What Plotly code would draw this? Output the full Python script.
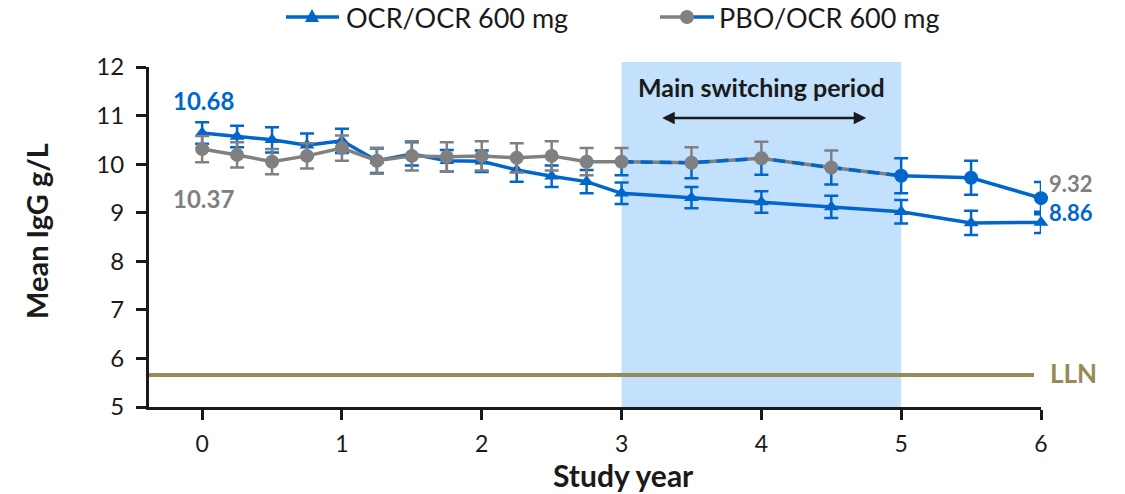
import plotly.graph_objects as go

# ---------------- data ----------------
years = [0, 0.25, 0.5, 0.75, 1, 1.25, 1.5, 1.75, 2, 2.25, 2.5, 2.75, 3, 3.5, 4, 4.5, 5, 5.5, 6]
ocr_mean = [10.64, 10.57, 10.50, 10.39, 10.48, 10.07, 10.21, 10.07, 10.06, 9.88, 9.75, 9.64,
            9.40, 9.31, 9.22, 9.12, 9.02, 8.79, 8.80]
ocr_err = [0.22, 0.22, 0.26, 0.24, 0.25, 0.25, 0.24, 0.22, 0.22, 0.24, 0.22, 0.24,
           0.22, 0.22, 0.22, 0.23, 0.24, 0.25, 0.22]
pbo_mean = [10.31, 10.19, 10.05, 10.17, 10.33, 10.07, 10.17, 10.15, 10.17, 10.13, 10.17, 10.05,
            10.05, 10.03, 10.12, 9.93, 9.76, 9.72, 9.30]
pbo_err = [0.27, 0.26, 0.26, 0.26, 0.26, 0.27, 0.30, 0.30, 0.30, 0.30, 0.30, 0.28,
           0.28, 0.32, 0.34, 0.35, 0.36, 0.35, 0.33]
series_names = ["OCR/OCR 600 mg", "PBO/OCR 600 mg"]
switch_start, switch_end = 3, 5
lln = 5.66
x_ticks = [0, 1, 2, 3, 4, 5, 6]
y_ticks = [5, 6, 7, 8, 9, 10, 11, 12]
label_ocr_start, label_pbo_start = "10.68", "10.37"
label_pbo_end, label_ocr_end = "9.32", "8.86"

# ---------------- style ----------------
BLUE = "#0066CC"
GRAY = "#808080"
SHADE = "#C3E0FC"
OLIVE = "#968B56"
TXT = "#1a1a1a"
FONT = "Lato"
OFF = 0                      # page body margin (removed via post_script)
W, H = 1125 - OFF, 494 - OFF
ML, MT = 149 - OFF, 67 - OFF
PW, PH = 892, 340
MR, MB = W - ML - PW, H - MT - PH


def px_x(p):                 # screen px -> paper x
    return (p - OFF - ML) / PW


def px_y(p):                 # screen px -> paper y
    return 1 + (MT - (p - OFF)) / PH


def sel(xs, vals, cond):
    return [v for x, v in zip(xs, vals) if cond(x)]


fig = go.Figure()

# OCR/OCR series
fig.add_trace(go.Scatter(
    x=years, y=ocr_mean, mode="lines+markers", cliponaxis=False,
    line=dict(color=BLUE, width=3.5),
    marker=dict(symbol="triangle-up", size=13, color=BLUE),
    error_y=dict(type="data", array=ocr_err, color=BLUE, thickness=2.5, width=7),
    showlegend=False))

# PBO/OCR : pre-switch (gray)
pre = lambda x: x < switch_start
fig.add_trace(go.Scatter(
    x=sel(years, years, lambda x: x <= switch_start),
    y=sel(years, pbo_mean, lambda x: x <= switch_start),
    mode="lines", cliponaxis=False, line=dict(color=GRAY, width=3.5), showlegend=False))
fig.add_trace(go.Scatter(
    x=sel(years, years, pre), y=sel(years, pbo_mean, pre), mode="markers", cliponaxis=False,
    marker=dict(symbol="circle", size=14, color=GRAY),
    error_y=dict(type="data", array=sel(years, pbo_err, pre), color=GRAY, thickness=2.5, width=7),
    showlegend=False))

# PBO/OCR : switching period
sw = lambda x: switch_start <= x < switch_end
swl = lambda x: switch_start <= x <= switch_end
n_sw = len(sel(years, years, sw))
fig.add_trace(go.Scatter(
    x=sel(years, years, sw), y=sel(years, pbo_mean, sw), mode="lines", cliponaxis=False,
    line=dict(color="rgba(0,0,0,0)", width=0),
    error_y=dict(type="data", symmetric=False, array=sel(years, pbo_err, sw),
                 arrayminus=[0] * n_sw, color=GRAY, thickness=2.5, width=7),
    showlegend=False))
fig.add_trace(go.Scatter(
    x=sel(years, years, sw), y=sel(years, pbo_mean, sw), mode="lines", cliponaxis=False,
    line=dict(color="rgba(0,0,0,0)", width=0),
    error_y=dict(type="data", symmetric=False, arrayminus=sel(years, pbo_err, sw),
                 array=[0] * n_sw, color=BLUE, thickness=2.5, width=7),
    showlegend=False))
fig.add_trace(go.Scatter(
    x=sel(years, years, swl), y=sel(years, pbo_mean, swl), mode="lines", cliponaxis=False,
    line=dict(color=GRAY, width=3.5), showlegend=False))
fig.add_trace(go.Scatter(
    x=sel(years, years, swl), y=sel(years, pbo_mean, swl), mode="lines", cliponaxis=False,
    line=dict(color=BLUE, width=3.5, dash="12px,7px"), showlegend=False))
fig.add_trace(go.Scatter(
    x=sel(years, years, sw), y=sel(years, pbo_mean, sw), mode="markers", cliponaxis=False,
    marker=dict(symbol="circle", size=14, color=GRAY), showlegend=False))

# PBO/OCR : post-switch (blue)
post = lambda x: x >= switch_end
fig.add_trace(go.Scatter(
    x=sel(years, years, post), y=sel(years, pbo_mean, post), mode="lines+markers", cliponaxis=False,
    line=dict(color=BLUE, width=3.5),
    marker=dict(symbol="circle", size=14, color=BLUE),
    error_y=dict(type="data", array=sel(years, pbo_err, post), color=BLUE, thickness=2.5, width=7),
    showlegend=False))

# shaded switching period
fig.add_shape(type="rect", xref="x", yref="paper", x0=switch_start, x1=switch_end,
              y0=0, y1=1 + 5 / PH, fillcolor=SHADE, line=dict(width=0), layer="below")
# LLN line
fig.add_shape(type="line", xref="x", yref="y", x0=-0.38, x1=5.95, y0=lln, y1=lln,
              line=dict(color=OLIVE, width=4), layer="above")

# annotations
ann = []


def a(**kw):
    kw.setdefault("showarrow", False)
    kw.setdefault("xanchor", "center")
    kw.setdefault("yanchor", "middle")
    ann.append(kw)


a(x=0.01, y=11.31, text=f"<b>{label_ocr_start}</b>", font=dict(family=FONT, size=24, color=BLUE))
a(x=0.01, y=9.30, text=f"<b>{label_pbo_start}</b>", font=dict(family=FONT, size=24, color=GRAY))
a(x=px_x(1047), xref="paper", y=9.60, xanchor="left", text=f"<b>{label_pbo_end}</b>",
  font=dict(family=FONT, size=22, color=GRAY))
a(x=px_x(1047), xref="paper", y=9.00, xanchor="left", text=f"<b>{label_ocr_end}</b>",
  font=dict(family=FONT, size=22, color=BLUE))
a(x=px_x(1048), xref="paper", y=5.70, xanchor="left", text="<b>LLN</b>",
  font=dict(family=FONT, size=26, color=OLIVE))
a(x=4.0, y=11.59, text="<b>Main switching period</b>", font=dict(family=FONT, size=25, color=TXT))
ann.append(dict(x=4.75, y=10.95, ax=3.28, ay=10.95, axref="x", ayref="y", xref="x", yref="y",
                text="", showarrow=True, arrowhead=2, startarrowhead=2, arrowside="end+start",
                arrowsize=1, arrowwidth=2.5, arrowcolor=TXT))
a(x=px_x(623), xref="paper", y=px_y(475), yref="paper", text="<b>Study year</b>",
  font=dict(family=FONT, size=30, color=TXT))
a(x=px_x(36), xref="paper", y=px_y(231), yref="paper", text="<b>Mean IgG g/L</b>",
  textangle=-90, font=dict(family=FONT, size=29, color=TXT))

# legend (manual)
LY = px_y(17)
fig.add_shape(type="line", xref="paper", yref="paper", x0=px_x(286), x1=px_x(339), y0=LY, y1=LY,
              line=dict(color=BLUE, width=3.5))
fig.add_shape(type="path", xref="paper", yref="paper", xsizemode="pixel", ysizemode="pixel",
              xanchor=px_x(312), yanchor=LY, path="M -7,-5 L 7,-5 L 0,8 Z",
              fillcolor=BLUE, line=dict(width=0))
a(x=px_x(344), y=LY, xref="paper", yref="paper", xanchor="left",
  text=series_names[0], font=dict(family=FONT, size=27, color=TXT))
fig.add_shape(type="line", xref="paper", yref="paper", x0=px_x(660), x1=px_x(690), y0=LY, y1=LY,
              line=dict(color=GRAY, width=3.5))
fig.add_shape(type="line", xref="paper", yref="paper", x0=px_x(690), x1=px_x(714), y0=LY, y1=LY,
              line=dict(color=BLUE, width=3.5))
fig.add_shape(type="circle", xref="paper", yref="paper", xsizemode="pixel", ysizemode="pixel",
              xanchor=px_x(687), yanchor=LY, x0=-7, x1=7, y0=-7, y1=7,
              fillcolor=GRAY, line=dict(width=0))
a(x=px_x(717), y=LY, xref="paper", yref="paper", xanchor="left",
  text=series_names[1], font=dict(family=FONT, size=27, color=TXT))

fig.update_layout(
    width=W, height=H, margin=dict(l=ML, r=MR, t=MT, b=MB, autoexpand=False),
    paper_bgcolor="white", plot_bgcolor="white", annotations=ann, showlegend=False,
    font=dict(family=FONT, color=TXT),
    xaxis=dict(range=[-0.38, 6.0], tickvals=x_ticks, ticks="outside", ticklen=10, tickwidth=3,
               tickcolor="#1a1a1a", showline=True, linecolor="#1a1a1a", linewidth=3,
               ticklabelstandoff=4,
               showgrid=False, zeroline=False, tickfont=dict(family=FONT, size=23, color=TXT)),
    yaxis=dict(range=[5, 12], tickvals=y_ticks, ticks="outside", ticklen=10, tickwidth=3,
               tickcolor="#1a1a1a", showline=True, linecolor="#1a1a1a", linewidth=3,
               ticklabelstandoff=7,
               showgrid=False, zeroline=False, tickfont=dict(family=FONT, size=24, color=TXT)),
)

fig.write_html("out.html", config={"displayModeBar": False},
               post_script="document.body.style.margin='0px';")
